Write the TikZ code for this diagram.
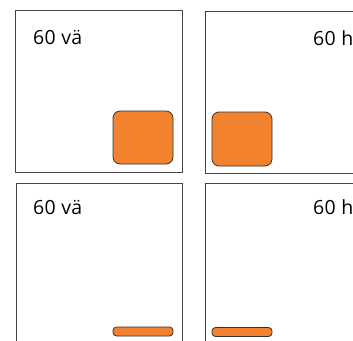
\documentclass[tikz,border=0pt]{standalone}
\usepackage{fontspec}
\setmainfont{Open Sans}
\definecolor{knoborange}{HTML}{F2822E}
\definecolor{framegray}{HTML}{454545}
\tikzset{
  panel/.style={draw=framegray,line width=0.9pt},
  knob/.style={draw=black!80,fill=knoborange,line width=0.8pt,rounded corners=7pt},
  bar/.style={draw=black!80,fill=knoborange,line width=0.8pt,rounded corners=3.5pt},
  tag/.style={anchor=base west,inner sep=0pt,font=\fontsize{19.5}{23}\selectfont\addfontfeature{LetterSpace=2}}
}
\begin{document}
\begin{tikzpicture}[x=1pt,y=-1pt]
	\clip (0,0) rectangle (353,340);
	\fill[white] (0,0) rectangle (353,340);
	% top row
	\draw[panel] (15,10) rectangle (182.5,172);
	\draw[panel] (205,11) rectangle (370,173.5);
	\draw[knob] (113,111) rectangle (173,164);
	\draw[knob] (212,112) rectangle (272,166);
	\node[tag] (vaTop) at (33,44.5) {60 vä};
	\node[tag] (heTop) at (313,45) {60 he};
	% bottom row
	\draw[panel] (16.5,183) rectangle (182.5,360);
	\draw[panel] (205,183) rectangle (370,360);
	\draw[bar] (113,327) rectangle (173,336);
	\draw[bar] (212,327.5) rectangle (272,336.5);
	\node[tag] (vaBot) at (33,214.5) {60 vä};
	\node[tag] (heBot) at (313,214.5) {60 he};
\end{tikzpicture}
\end{document}
